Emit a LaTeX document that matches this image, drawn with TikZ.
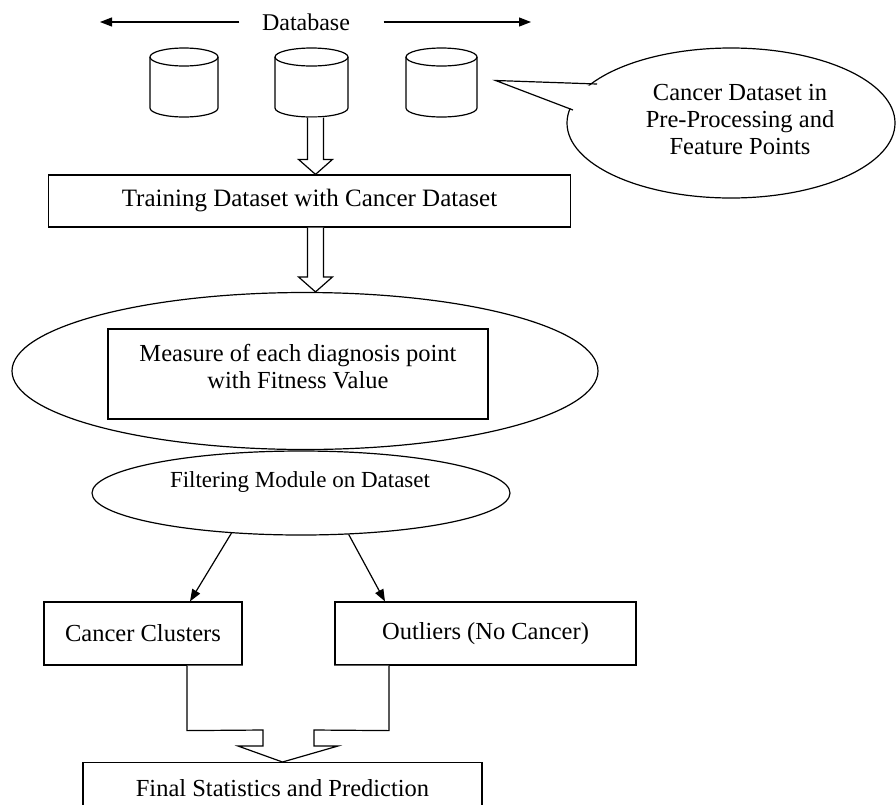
\documentclass[tikz,border=0pt]{standalone}
\usepackage{fontspec}
\setmainfont{Liberation Serif}
\usetikzlibrary{shapes.geometric,calc,arrows.meta}
\newcommand\dbcyl[3]{%
  \node[minimum width={2*#3}, minimum height=69, inner sep=0pt] (#1) at (#2,82.5) {};
  \draw[fill=white] ({#2-#3},57) -- ({#2-#3},108) arc[start angle=180,end angle=0,x radius=#3,y radius=9] -- ({#2+#3},57);
  \draw (#2,57) ellipse[x radius=#3, y radius=9];
}
\newcommand\hollowarrow[2]{%
  \draw[fill=white] ($(#1)+(-8,0)$) -- ($(#2)+(-8,-15)$) -- ($(#2)+(-17,-15)$) -- (#2)
    -- ($(#2)+(17,-15)$) -- ($(#2)+(8,-15)$) -- ($(#1)+(8,0)$);
}
\begin{document}
\begin{tikzpicture}[x=1pt,y=-1pt, line width=1.2pt,
  txt/.style={font=\fontsize{24.5}{27}\selectfont, inner sep=0pt, align=center},
  box/.style={draw, rectangle, inner sep=0pt},
  oval/.style={draw, ellipse, inner sep=0pt, fill=white},
  arr/.style={-{Triangle[length=12pt,width=9pt]}}]
\useasboundingbox (0,0) rectangle (896,804);
\clip (0,0) rectangle (896,804);

% top label and arrows
\node[txt, font=\fontsize{24}{27}\selectfont] (db) at (306,22) {Database};
\coordinate (lend) at (100,22);
\coordinate (rend) at (531,22);
\draw[arr] ($(db.west)+(-22,0)$) -- (lend);
\draw[arr] ($(db.east)+(33,0)$) -- (rend);

% cylinders
\dbcyl{c1}{184}{34}
\dbcyl{c2}{311.5}{36.5}
\dbcyl{c3}{441.5}{35.5}

% callout
\node[oval, minimum width=328, minimum height=150] (callout) at (731,123) {};
\coordinate (ptip) at ($(c3.east)+(18,-2)$);
\fill[white] (598,86) -- (ptip) -- (575,110) -- cycle;
\draw (597,84) -- (ptip) -- (573,110);
\node[txt] (calltxt) at (740,120) {Cancer Dataset in\\Pre-Processing and\\Feature Points};

% training box
\node[box, txt, minimum width=522, minimum height=52, font=\fontsize{25}{28}\selectfont] (train) at (309.5,201) {Training Dataset with Cancer Dataset};

% measure ellipse
\node[oval, minimum width=586, minimum height=157] (measure) at (305,371) {};
\node[box, minimum width=380, minimum height=90] (mbox) at (298,374) {};
\node[txt] (mtxt) at (298,367) {Measure of each diagnosis point\\with Fitness Value};

% hollow arrows
\coordinate (a1) at ($(c2.south)+(4,0)$);
\coordinate (b1) at (train.north -| a1);
\hollowarrow{a1}{b1}
\coordinate (a2) at (train.south -| a1);
\coordinate (b2) at (measure.north -| a1);
\hollowarrow{a2}{b2}

% filtering ellipse
\node[oval, minimum width=418, minimum height=84] (filter) at (301,493) {};
\node[txt, font=\fontsize{23}{27}\selectfont] (ftxt) at (300,482) {Filtering Module on Dataset};

% result boxes
\node[box, txt, minimum width=198, minimum height=63] (cc) at (143,633.5) {Cancer Clusters};
\node[box, txt, minimum width=301, minimum height=63] (out) at (485.5,633.5) {Outliers (No Cancer)};
\draw[arr] (filter.210) -- ($(cc.north)+(47,0)$);
\draw[arr] (filter.319) -- ($(out.north)+(-100.5,0)$);

% final box
\node[box, minimum width=399, minimum height=80, anchor=north] (final) at (282.5,762) {};
\node[txt] (fintxt) at (282.5,788) {Final Statistics and Prediction};

% merge arrow
\coordinate (ml) at ($(cc.south)+(44,0)$);
\coordinate (mr) at ($(out.south)+(-96.5,0)$);
\draw[fill=white] (ml) -- ($(ml)+(0,65)$) -- ($(final.north)+(-19.5,-32)$) -- ($(final.north)+(-19.5,-16)$)
  -- ($(final.north)+(-44.5,-16)$) -- (final.north) -- ($(final.north)+(55.5,-16)$)
  -- ($(final.north)+(31.5,-16)$) -- ($(final.north)+(31.5,-32)$) -- ($(mr)+(0,65)$) -- (mr);
\end{tikzpicture}
\end{document}
